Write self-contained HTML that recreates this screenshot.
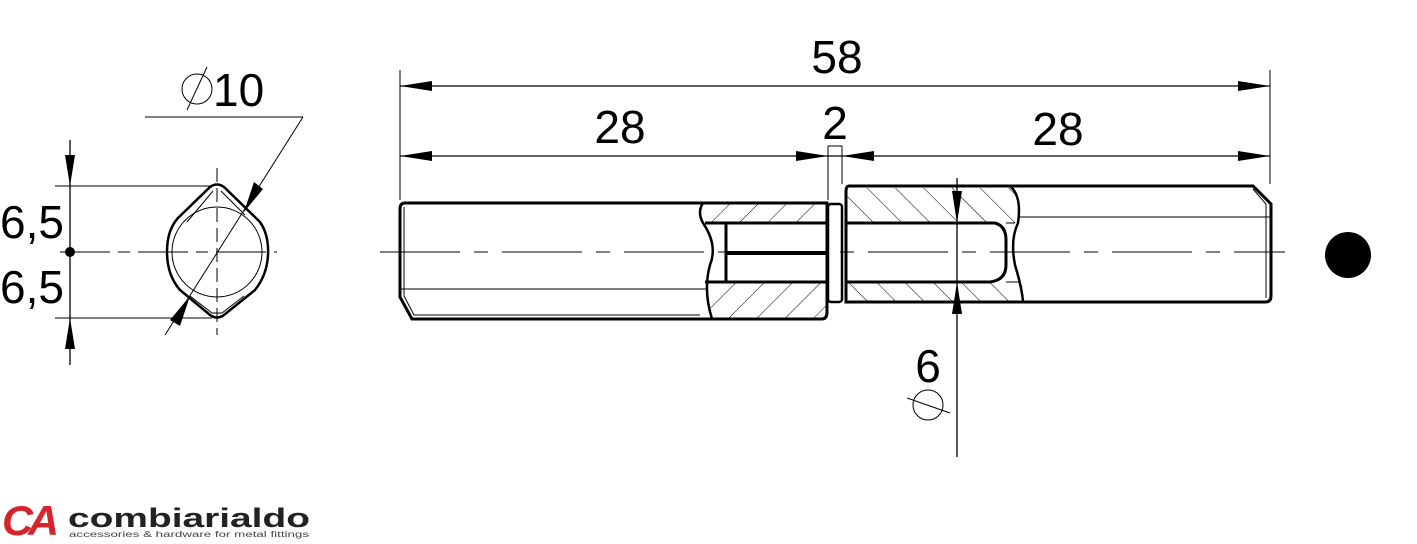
<!DOCTYPE html>
<html><head><meta charset="utf-8"><style>
html,body{margin:0;padding:0;background:#fff;width:1417px;height:544px;overflow:hidden}
svg{display:block}
text{font-family:"Liberation Sans",sans-serif;fill:#000}
</style></head><body>
<svg width="1417" height="544" viewBox="0 0 1417 544" xmlns="http://www.w3.org/2000/svg">
<defs>
<pattern id="h1" patternUnits="userSpaceOnUse" width="20" height="20" patternTransform="rotate(45)">
<line x1="0" y1="0" x2="0" y2="20" stroke="#000" stroke-width="1"/></pattern>
<pattern id="h2" patternUnits="userSpaceOnUse" width="20" height="20" patternTransform="rotate(-45)">
<line x1="0" y1="0" x2="0" y2="20" stroke="#000" stroke-width="1"/></pattern>
</defs>
<g fill="none" stroke="#000">
<line x1="380" y1="252" x2="1285" y2="252" stroke-width="1" stroke-dasharray="80,14,14,14"/>
<path d="M707,204 L827,204 L827,223 L708,223 Z" fill="url(#h1)" stroke="none"/>
<path d="M708,282 L827,282 L827,318 L712,318 Z" fill="url(#h1)" stroke="none"/>
<path d="M827,203 L405,203 Q400,203 400,209 L400,297 L412,319 L822,319 Q827,319 827,312 Z" stroke-width="3"/>
<path d="M404,207 L404,296 L414,315 L700,315" stroke-width="1"/>
<line x1="401" y1="289" x2="708" y2="289" stroke-width="1"/>
<path d="M703,203 Q697,212 703,223 Q718,245 710,265 Q703,290 712,319" stroke-width="2.5"/>
<line x1="705" y1="223" x2="827" y2="223" stroke-width="3"/>
<line x1="705" y1="282" x2="827" y2="282" stroke-width="3"/>
<line x1="726" y1="223" x2="726" y2="282" stroke-width="3"/>
<line x1="727" y1="253" x2="827" y2="253" stroke-width="4"/>
<rect x="828" y="204" width="14" height="98" rx="3" stroke-width="2.5"/>
<path d="M846,188 L1010,188 Q1022,200 1018,223 L846,223 Z" fill="url(#h2)" stroke="none"/>
<path d="M846,282 L1022,282 L1024,301 L846,301 Z" fill="url(#h2)" stroke="none"/>
<path d="M849,186 L1253,186 L1271,204 L1271,296 Q1271,302 1265,302 L846,302 L846,192 Q846,186 849,186 Z" stroke-width="3"/>
<path d="M1253,189 L1266,204 L1266,298" stroke-width="1"/>
<line x1="1018" y1="217" x2="1270" y2="217" stroke-width="1"/>
<path d="M1010,186 Q1022,196 1018,223 Q1010,240 1015,265 Q1022,288 1023,302" stroke-width="2.5"/>
<path d="M846,223 L995,223 Q1006,226 1006,240 L1006,265 Q1006,280 990,282 L846,282" stroke-width="3"/>
<line x1="1006" y1="223" x2="1015" y2="223" stroke-width="1"/>
<line x1="1006" y1="282" x2="1018" y2="282" stroke-width="1"/>
<line x1="400" y1="70" x2="400" y2="200" stroke-width="1"/>
<line x1="1270" y1="70" x2="1270" y2="184" stroke-width="1"/>
<line x1="828" y1="146" x2="828" y2="200" stroke-width="1"/>
<line x1="842" y1="146" x2="842" y2="184" stroke-width="1"/>
<line x1="400" y1="86" x2="1270" y2="86" stroke-width="1.3"/>
<line x1="400" y1="156" x2="1270" y2="156" stroke-width="1.3"/>
<line x1="828" y1="146" x2="842" y2="146" stroke-width="1"/>
<line x1="957" y1="178" x2="957" y2="457" stroke-width="1.3"/>
<line x1="70" y1="140" x2="70" y2="365" stroke-width="1.3"/>
<line x1="55" y1="186" x2="212" y2="186" stroke-width="1"/>
<line x1="55" y1="318" x2="212" y2="318" stroke-width="1"/>
<line x1="60" y1="252" x2="277" y2="252" stroke-width="1" stroke-dasharray="50,8,12,8"/>
<line x1="217" y1="168" x2="217" y2="335" stroke-width="1" stroke-dasharray="14,6"/>
<path d="M210,187 Q217,182 224,187 L260,222 Q269,235 268,255 Q267,275 255,290 L224,315 Q217,320 210,315 L180,290 Q167,275 167,252 Q167,230 178,218 Z" stroke-width="2.5"/>
<circle cx="217" cy="252" r="45" stroke-width="1"/>
<path d="M213,191 L187,222 M221,191 L245,215" stroke-width="1"/>
<path d="M190,296 L212,313 L222,313 L244,296" stroke-width="1"/>
<line x1="145" y1="117" x2="303" y2="117" stroke-width="1"/>
<line x1="303" y1="117" x2="165" y2="335" stroke-width="1"/>
<circle cx="197" cy="89" r="15" stroke-width="1"/>
<line x1="207" y1="67" x2="187" y2="110" stroke-width="1"/>
<circle cx="928" cy="405" r="15" stroke-width="1"/>
<line x1="907" y1="398" x2="950" y2="413" stroke-width="1"/>
</g>
<g fill="#000">
<polygon points="400,86 432,81 432,91"/><polygon points="1270,86 1238,81 1238,91"/>
<polygon points="400,156 432,151 432,161"/><polygon points="828,156 796,151 796,161"/>
<polygon points="842,156 874,151 874,161"/><polygon points="1270,156 1238,151 1238,161"/>
<polygon points="957,223 952,191 962,191"/><polygon points="957,282 952,314 962,314"/>
<polygon points="70,186 65,155 75,155"/><polygon points="70,318 65,349 75,349"/>
<circle cx="70" cy="252" r="5"/>
<polygon points="244,212 254,182 263,189"/>
<polygon points="190,296 170,320 180,326"/>
<circle cx="1348" cy="255" r="23"/>
</g>
<text x="837" y="73" font-size="46" text-anchor="middle">58</text>
<text x="620" y="143" font-size="46" text-anchor="middle">28</text>
<text x="835" y="139" font-size="46" text-anchor="middle">2</text>
<text x="1058" y="145" font-size="46" text-anchor="middle">28</text>
<text x="928" y="382" font-size="46" text-anchor="middle">6</text>
<text x="213" y="106" font-size="46">10</text>
<text x="0" y="238" font-size="46">6,5</text>
<text x="0" y="303" font-size="46">6,5</text>
<text x="2" y="535" font-size="42" font-weight="bold" style="fill:#d8232a;font-style:italic" letter-spacing="-5" textLength="52" lengthAdjust="spacingAndGlyphs">CA</text>
<text x="68" y="527" font-size="27" font-weight="bold" textLength="242" lengthAdjust="spacingAndGlyphs" style="fill:#222">combiarialdo</text>
<text x="69" y="537" font-size="8" textLength="240" lengthAdjust="spacingAndGlyphs" style="fill:#444">accessories &amp; hardware for metal fittings</text>
</svg>
</body></html>
